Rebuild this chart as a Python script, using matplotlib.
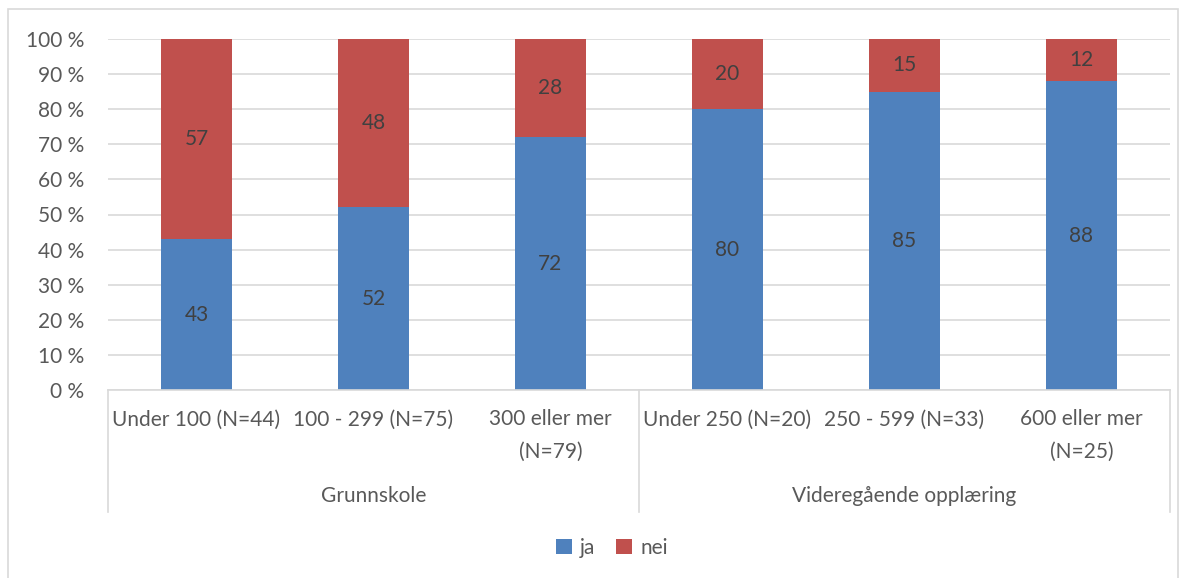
import matplotlib.pyplot as plt
from matplotlib.patches import Rectangle
import numpy as np

plt.rcParams['font.family'] = ['Lato', 'DejaVu Sans']

categories = ["Under 100 (N=44)", "100 - 299 (N=75)", "300 eller mer\n(N=79)",
              "Under 250 (N=20)", "250 - 599 (N=33)", "600 eller mer\n(N=25)"]
groups = ["Grunnskole", "Videregående opplæring"]
group_sizes = [3, 3]
ja = [43, 52, 72, 80, 85, 88]
nei = [57, 48, 28, 20, 15, 12]

blue = "#4F81BD"
red = "#C0504D"
txt = "#595959"
grid = "#D9D9D9"
fs = 15

W, H = 1186, 578
fig = plt.figure(figsize=(W / 100, H / 100), dpi=100)
fig.patches.append(Rectangle((8 / W, -0.01), 1170 / W, 1 - 9 / H + 0.01, transform=fig.transFigure,
                             fill=False, edgecolor=grid, lw=1.2))

ax = fig.add_axes([108 / W, (H - 390) / H, (1170 - 108) / W, (390 - 39) / H])
x = np.arange(len(categories))
b1 = ax.bar(x, ja, 0.4, color=blue, label="ja", zorder=2)
b2 = ax.bar(x, nei, 0.4, bottom=ja, color=red, label="nei", zorder=2)

for i in range(len(x)):
    ax.text(x[i], ja[i] / 2, str(ja[i]), ha="center", va="center", fontsize=fs, color="#404040")
    ax.text(x[i], ja[i] + nei[i] / 2, str(nei[i]), ha="center", va="center", fontsize=fs, color="#404040")

ax.set_xlim(-0.5, len(x) - 0.5)
ax.set_ylim(0, 100)
ax.set_yticks(range(0, 101, 10))
ax.set_yticklabels([f"{v} %" for v in range(0, 101, 10)], fontsize=fs, color=txt)
ax.yaxis.grid(True, color=grid, lw=1.2, zorder=0)
ax.tick_params(axis="y", length=0, pad=17)
ax.set_xticks(x)
ax.set_xticklabels(categories, fontsize=fs, color=txt, linespacing=1.75, va="top")
ax.tick_params(axis="x", length=0, pad=14)
for s in ["top", "right", "left"]:
    ax.spines[s].set_visible(False)
ax.spines["bottom"].set_color(grid)
ax.spines["bottom"].set_linewidth(1.2)

# group separators and labels
depth = (512 - 390) / (390 - 39)
edges = np.concatenate([[0], np.cumsum(group_sizes)]) - 0.5
for e in edges:
    ax.plot([e, e], [0, -depth * 100], color=grid, lw=1.2, clip_on=False)
for j, g in enumerate(groups):
    ax.text((edges[j] + edges[j + 1]) / 2, -(496 - 390) / (390 - 39) * 100, g,
            ha="center", va="center", fontsize=fs, color=txt)

fig.legend(handles=[b1, b2], loc="center", bbox_to_anchor=(612 / W, 1 - 548 / H), ncol=2,
           frameon=False, fontsize=fs, handlelength=0.75, handleheight=0.75,
           handletextpad=0.4, columnspacing=1.0, labelcolor=txt)

fig.savefig("out.png", dpi=100)
